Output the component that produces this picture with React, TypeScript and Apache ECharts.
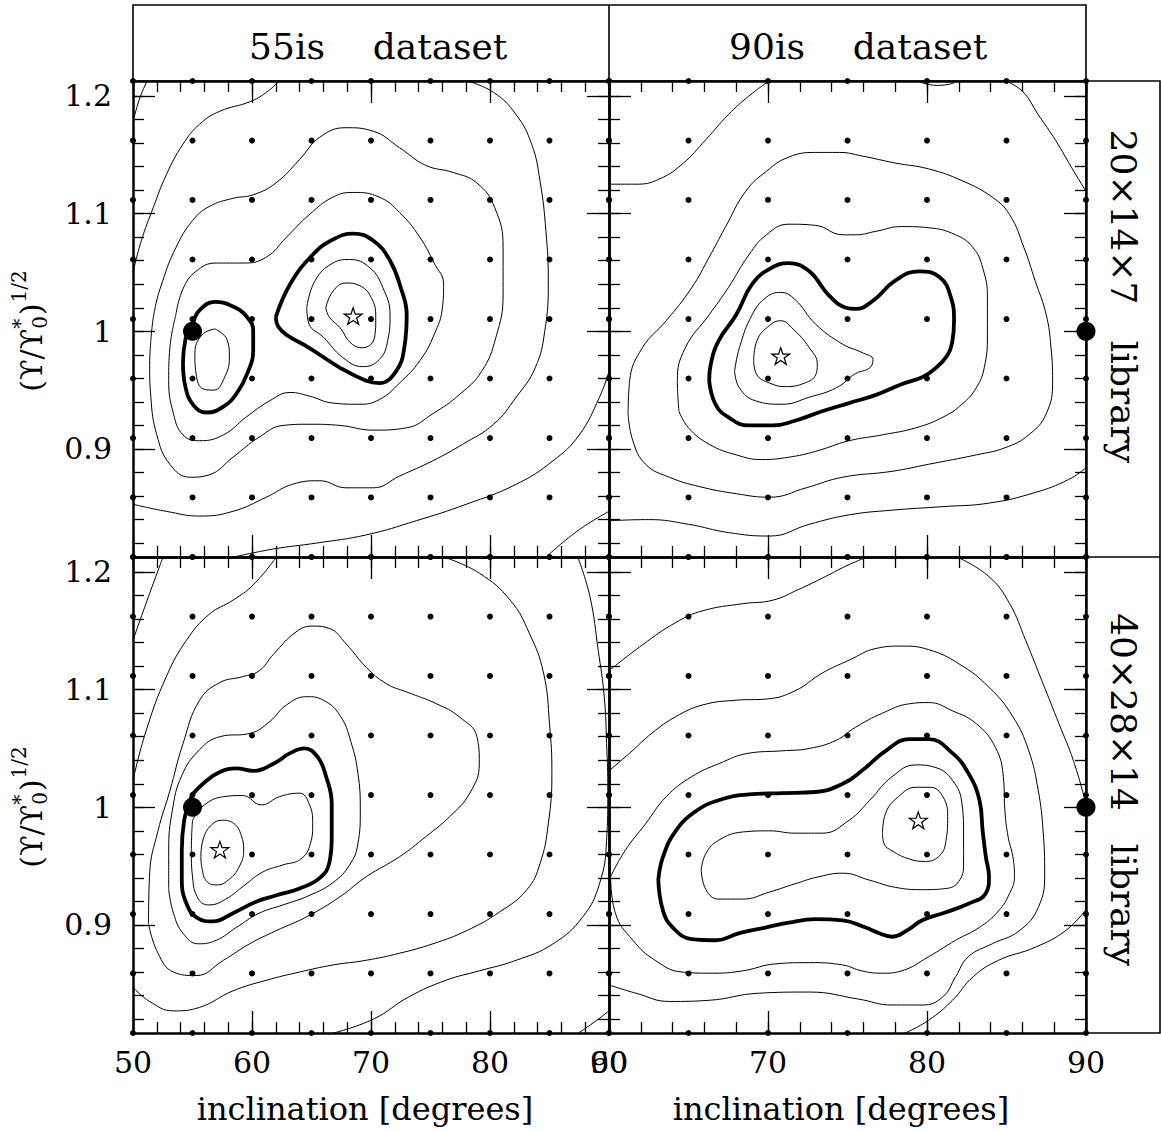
import React, { useEffect, useRef } from "react";
import * as echarts from "echarts";

const FONT = '"DejaVu Serif", "Liberation Serif", serif';

// ---------- axes ----------
const yExtent = [0.8082, 1.2127];
const xExtentLeft = [50, 90];
const xExtentRight = [60, 90];
const yMajor = [0.9, 1.0, 1.1, 1.2];
const yMinor = [0.82, 0.84, 0.86, 0.88, 0.9, 0.92, 0.94, 0.96, 0.98, 1.0, 1.02, 1.04, 1.06, 1.08, 1.1, 1.12, 1.14, 1.16, 1.18, 1.2];
const xMajorLeft = [50, 60, 70, 80, 90];
const xMinorLeft = [50, 52, 54, 56, 58, 60, 62, 64, 66, 68, 70, 72, 74, 76, 78, 80, 82, 84, 86, 88, 90];
const xMajorRight = [60, 70, 80, 90];
const xMinorRight = [60, 62, 64, 66, 68, 70, 72, 74, 76, 78, 80, 82, 84, 86, 88, 90];

// ---------- model grid (dots) ----------
const gridRows = [0.8082, 0.8588, 0.9093, 0.9599, 1.0104, 1.061, 1.1116, 1.1621, 1.2127];
const gridColsLeft = [50, 55, 60, 65, 70, 75, 80, 85, 90];
const gridColsRight = [60, 65, 70, 75, 80, 85, 90];

// ---------- true model and best fits ----------
const trueLeft = [[55, 1.0]];
const trueRight = [[90, 1.0]];
const bestTL = [[68.5, 1.013]];
const bestTR = [[70.8, 0.979]];
const bestBL = [[57.3, 0.964]];
const bestBR = [[79.45, 0.989]];

// ---------- contours: top-left (55is, 20x14x7) ----------
const tlCornerBR = [[84.7, 0.808], [87.3, 0.83], [90.0, 0.847]];
const tlOuterA = [[50.1, 1.182], [50.6, 1.199], [51.2, 1.213]];
const tlOuterB = [[90.0, 0.966], [89.2, 0.944], [87.5, 0.912], [85.3, 0.89], [82.2, 0.87], [78.0, 0.853], [73.8, 0.839], [69.6, 0.827], [65.4, 0.82], [61.8, 0.815], [58.4, 0.808]];
const tlWideA = [[50.0, 1.05], [50.7, 1.077], [51.7, 1.105], [52.8, 1.133], [54.2, 1.159], [55.6, 1.176], [57.3, 1.187], [59.8, 1.195], [61.2, 1.203], [62.3, 1.213]];
const tlWideB = [[78.0, 1.213], [80.3, 1.203], [82.2, 1.184], [83.5, 1.159], [84.2, 1.128], [84.7, 1.085], [84.9, 1.043], [84.6, 1.0], [83.8, 0.969], [82.2, 0.944], [80.3, 0.921], [77.7, 0.904], [75.2, 0.89], [72.4, 0.877], [70.2, 0.867], [67.9, 0.867], [65.7, 0.873], [63.4, 0.87], [61.2, 0.859], [58.4, 0.847], [55.6, 0.843], [52.8, 0.847], [50.0, 0.853]];
const tlRing3 = [[51.5, 0.992], [51.8, 1.017], [52.5, 1.043], [53.6, 1.071], [55.0, 1.094], [56.4, 1.106], [58.4, 1.113], [60.1, 1.116], [62.0, 1.126], [64.0, 1.146], [65.7, 1.165], [67.9, 1.173], [70.2, 1.17], [72.4, 1.156], [74.6, 1.141], [76.9, 1.135], [78.9, 1.126], [80.4, 1.105], [81.1, 1.071], [81.1, 1.031], [80.5, 0.995], [79.3, 0.966], [77.4, 0.946], [75.2, 0.93], [73.0, 0.918], [70.2, 0.916], [67.4, 0.92], [64.8, 0.921], [62.6, 0.92], [60.6, 0.91], [58.4, 0.893], [56.4, 0.878], [54.8, 0.876], [53.1, 0.887], [52.0, 0.912], [51.5, 0.944], [51.4, 0.972]];
const tlRing2 = [[53.6, 1.014], [54.2, 1.036], [55.3, 1.051], [57.0, 1.058], [59.2, 1.058], [61.2, 1.063], [62.9, 1.08], [64.8, 1.099], [66.8, 1.114], [68.5, 1.118], [70.7, 1.114], [72.4, 1.101], [74.1, 1.08], [75.3, 1.058], [76.1, 1.04], [76.0, 1.02], [75.3, 0.997], [74.1, 0.975], [72.4, 0.956], [70.7, 0.942], [69.0, 0.938], [66.8, 0.939], [64.8, 0.945], [63.2, 0.948], [61.5, 0.941], [59.5, 0.927], [57.6, 0.912], [55.6, 0.907], [54.2, 0.912], [53.4, 0.93], [53.0, 0.958], [53.1, 0.986]];
const tlThickLeft = [[55.1, 1.008], [55.6, 1.018], [56.9, 1.025], [58.4, 1.021], [59.6, 1.012], [60.1, 1.0], [60.1, 0.984], [59.6, 0.964], [58.7, 0.947], [57.6, 0.936], [56.2, 0.931], [55.1, 0.937], [54.4, 0.953], [54.2, 0.973], [54.4, 0.993], [54.8, 1.004]];
const tlInnerLeft = [[56.9, 1.002], [57.9, 0.993], [58.1, 0.978], [57.7, 0.961], [56.8, 0.95], [55.9, 0.951], [55.3, 0.964], [55.2, 0.981], [55.8, 0.997]];
const tlThickRight = [[62.0, 1.012], [63.2, 1.04], [65.1, 1.065], [66.8, 1.078], [68.5, 1.083], [70.2, 1.077], [71.6, 1.06], [72.5, 1.037], [73.0, 1.014], [72.8, 0.986], [72.1, 0.966], [70.7, 0.956], [69.6, 0.958], [67.4, 0.969], [64.8, 0.986], [62.9, 0.997], [62.2, 1.004]];
const tlInnerRight1 = [[64.6, 1.02], [65.3, 1.043], [66.8, 1.058], [68.2, 1.061], [69.9, 1.054], [71.0, 1.037], [71.6, 1.014], [71.4, 0.992], [70.7, 0.976], [69.3, 0.97], [67.6, 0.978], [66.0, 0.995], [64.8, 1.006]];
const tlInnerRight2 = [[66.2, 1.02], [66.8, 1.034], [67.9, 1.041], [69.0, 1.039], [70.0, 1.029], [70.4, 1.012], [70.3, 0.995], [69.3, 0.986], [68.3, 0.99], [67.4, 1.003], [66.5, 1.012]];

// ---------- contours: top-right (90is, 20x14x7) ----------
const trTopDip = [[79.4, 1.213], [80.0, 1.21], [80.8, 1.209], [81.7, 1.211]];
const trOuterA = [[60.0, 1.125], [61.7, 1.125], [63.1, 1.129], [64.6, 1.142], [66.1, 1.163], [67.5, 1.184], [68.8, 1.2], [70.0, 1.212]];
const trOuterB = [[84.9, 1.213], [86.0, 1.204], [87.0, 1.184], [88.1, 1.162], [89.1, 1.139], [90.0, 1.119]];
const trOuterC = [[60.0, 0.839], [62.5, 0.84], [65.0, 0.836], [67.5, 0.829], [70.1, 0.826], [72.6, 0.836], [75.1, 0.844], [77.8, 0.848], [81.0, 0.851], [83.9, 0.854], [86.8, 0.863], [88.9, 0.874], [90.0, 0.884]];
const trRing3 = [[61.2, 0.93], [61.3, 0.958], [62.1, 0.986], [63.6, 1.009], [65.2, 1.037], [66.3, 1.063], [67.3, 1.088], [68.6, 1.119], [69.9, 1.136], [71.3, 1.148], [73.0, 1.152], [74.5, 1.152], [75.9, 1.149], [78.0, 1.143], [80.1, 1.138], [82.2, 1.128], [84.1, 1.114], [85.2, 1.099], [86.1, 1.071], [86.8, 1.043], [87.5, 1.014], [87.8, 0.986], [87.9, 0.958], [87.5, 0.93], [86.4, 0.912], [84.9, 0.901], [83.1, 0.895], [80.1, 0.887], [77.8, 0.881], [74.7, 0.876], [72.4, 0.867], [70.1, 0.859], [68.0, 0.862], [65.7, 0.868], [63.8, 0.876], [62.3, 0.887], [61.5, 0.907]];
const trRing2 = [[64.4, 0.932], [64.3, 0.958], [64.8, 0.986], [66.3, 1.014], [67.5, 1.037], [68.8, 1.065], [69.9, 1.082], [71.3, 1.091], [73.0, 1.09], [74.7, 1.082], [75.5, 1.082], [76.8, 1.085], [78.4, 1.089], [80.1, 1.088], [81.8, 1.082], [82.9, 1.071], [83.5, 1.054], [83.8, 1.029], [83.8, 0.997], [83.6, 0.969], [83.1, 0.952], [82.2, 0.938], [81.0, 0.927], [79.3, 0.918], [77.2, 0.912], [75.1, 0.907], [73.0, 0.898], [71.3, 0.893], [69.6, 0.891], [68.0, 0.895], [66.3, 0.904], [65.0, 0.918]];
const trThick = [[66.3, 0.958], [66.4, 0.972], [66.9, 0.992], [68.0, 1.014], [69.0, 1.04], [70.1, 1.053], [71.3, 1.058], [72.6, 1.051], [73.8, 1.031], [74.9, 1.02], [75.5, 1.019], [76.6, 1.026], [78.0, 1.043], [79.5, 1.051], [80.8, 1.046], [81.5, 1.029], [81.7, 1.009], [81.6, 0.992], [81.2, 0.978], [80.3, 0.966], [79.7, 0.961], [78.4, 0.955], [76.8, 0.946], [75.1, 0.939], [73.4, 0.932], [71.7, 0.924], [70.3, 0.92], [68.8, 0.92], [67.5, 0.927], [66.7, 0.938]];
const trInner1 = [[67.9, 0.966], [68.2, 0.986], [69.0, 1.014], [69.9, 1.029], [70.8, 1.033], [71.7, 1.027], [73.0, 1.006], [74.7, 0.989], [75.9, 0.982], [76.6, 0.976], [76.4, 0.969], [75.5, 0.964], [74.3, 0.952], [72.6, 0.944], [70.9, 0.938], [69.2, 0.941], [68.2, 0.952]];
const trInner2 = [[69.1, 0.975], [69.3, 0.992], [70.1, 1.005], [70.8, 1.009], [71.5, 1.003], [72.6, 0.986], [73.1, 0.972], [73.0, 0.963], [72.3, 0.956], [71.1, 0.953], [70.1, 0.956], [69.3, 0.963]];

// ---------- contours: bottom-left (55is, 40x28x14) ----------
const blCornerTL = [[50.0, 1.142], [51.3, 1.179], [52.5, 1.212]];
const blCornerBR = [[87.4, 0.808], [88.7, 0.817], [90.0, 0.827]];
const blOuterEdge = [[87.4, 1.212], [88.4, 1.179], [89.1, 1.133], [89.6, 1.094], [89.8, 1.054], [89.9, 1.014], [89.8, 0.972], [89.2, 0.935], [87.8, 0.907], [85.3, 0.884], [82.2, 0.87], [79.1, 0.861], [76.3, 0.853], [73.2, 0.839], [70.2, 0.82], [66.8, 0.808]];
const blWideA = [[50.0, 1.023], [51.1, 1.065], [52.8, 1.111], [54.5, 1.142], [56.4, 1.164], [58.4, 1.176], [60.1, 1.189], [62.0, 1.212]];
const blWideB = [[76.3, 1.212], [79.1, 1.199], [81.7, 1.176], [83.3, 1.148], [84.5, 1.114], [85.0, 1.071], [85.2, 1.029], [84.9, 0.986], [84.2, 0.952], [83.1, 0.93], [80.8, 0.911], [78.0, 0.895], [75.2, 0.884], [72.4, 0.876], [69.6, 0.87], [66.8, 0.866], [64.0, 0.86], [61.2, 0.853], [58.4, 0.844], [55.6, 0.83], [53.4, 0.827], [51.4, 0.835], [50.0, 0.847]];
const blRing3 = [[51.3, 0.901], [51.4, 0.944], [52.1, 0.98], [53.1, 1.014], [54.2, 1.054], [55.6, 1.091], [57.3, 1.106], [59.2, 1.111], [60.6, 1.116], [61.8, 1.13], [63.7, 1.149], [65.1, 1.154], [66.5, 1.152], [67.9, 1.139], [69.6, 1.119], [71.3, 1.105], [73.0, 1.098], [75.5, 1.088], [77.4, 1.077], [78.9, 1.06], [79.1, 1.037], [78.3, 1.012], [76.6, 0.992], [74.6, 0.975], [72.4, 0.958], [69.6, 0.941], [67.4, 0.924], [64.6, 0.907], [62.0, 0.895], [59.8, 0.884], [57.6, 0.87], [55.3, 0.857], [53.4, 0.86], [52.1, 0.876]];
const blRing2 = [[53.0, 0.93], [53.0, 0.963], [53.3, 0.997], [54.1, 1.027], [55.6, 1.049], [57.3, 1.06], [59.9, 1.063], [61.5, 1.073], [62.9, 1.087], [64.6, 1.094], [66.0, 1.091], [67.4, 1.078], [68.3, 1.056], [68.9, 1.029], [69.1, 0.997], [68.9, 0.969], [68.2, 0.951], [66.8, 0.936], [64.8, 0.925], [62.6, 0.917], [60.6, 0.91], [58.7, 0.898], [57.0, 0.887], [55.5, 0.884], [54.2, 0.893], [53.4, 0.91]];
const blThick = [[55.0, 1.011], [56.0, 1.021], [57.3, 1.03], [58.7, 1.033], [60.1, 1.031], [61.8, 1.037], [63.2, 1.046], [64.4, 1.05], [65.5, 1.043], [66.2, 1.027], [66.7, 1.003], [66.7, 0.975], [66.5, 0.953], [65.7, 0.94], [64.0, 0.931], [62.0, 0.925], [60.4, 0.92], [58.4, 0.91], [56.7, 0.903], [55.4, 0.906], [54.5, 0.918], [54.1, 0.939], [54.1, 0.963], [54.3, 0.989], [54.7, 1.003]];
const blInner1 = [[55.0, 0.989], [56.0, 1.002], [57.6, 1.009], [59.2, 1.01], [60.8, 1.002], [62.3, 1.009], [64.0, 1.012], [64.8, 1.003], [65.1, 0.986], [64.9, 0.969], [64.1, 0.956], [62.6, 0.951], [60.9, 0.945], [59.4, 0.934], [57.8, 0.922], [56.4, 0.917], [55.5, 0.922], [55.0, 0.941], [54.9, 0.963]];
const blInner2 = [[55.7, 0.958], [55.9, 0.973], [56.6, 0.985], [57.5, 0.989], [58.5, 0.986], [59.1, 0.976], [59.3, 0.963], [58.9, 0.949], [58.1, 0.939], [57.1, 0.934], [56.2, 0.937], [55.8, 0.948]];

// ---------- contours: bottom-right (90is, 40x28x14) ----------
const brOuterA = [[60.0, 1.116], [62.1, 1.138], [64.2, 1.157], [65.9, 1.167], [68.4, 1.173], [70.3, 1.176], [71.9, 1.185], [73.6, 1.196], [74.9, 1.205], [76.1, 1.212]];
const brOuterB = [[82.0, 1.212], [83.9, 1.196], [85.2, 1.173], [86.2, 1.142], [87.3, 1.105], [88.3, 1.071], [89.2, 1.04], [89.94, 1.006]];
const brOuterC = [[78.6, 0.808], [80.1, 0.819], [81.6, 0.836], [82.9, 0.856], [84.5, 0.87], [86.8, 0.881], [88.7, 0.895], [89.94, 0.912]];
const brWide = [[60.0, 1.031], [61.3, 1.046], [62.7, 1.063], [64.2, 1.077], [65.9, 1.087], [68.0, 1.091], [69.9, 1.092], [71.7, 1.099], [73.4, 1.114], [75.1, 1.125], [76.8, 1.135], [78.4, 1.137], [80.1, 1.134], [82.0, 1.122], [83.9, 1.102], [85.4, 1.077], [86.4, 1.048], [87.0, 1.014], [87.3, 0.98], [87.4, 0.944], [87.0, 0.915], [85.8, 0.895], [84.1, 0.884], [82.6, 0.873], [81.8, 0.856], [81.0, 0.839], [79.7, 0.832], [77.8, 0.832], [75.7, 0.837], [72.6, 0.843], [69.4, 0.842], [66.3, 0.836], [63.8, 0.835], [61.7, 0.842], [60.0, 0.849]];
const brRing3 = [[60.1, 0.941], [61.0, 0.963], [62.3, 0.986], [63.6, 1.009], [65.2, 1.026], [66.9, 1.037], [68.8, 1.046], [70.9, 1.048], [72.6, 1.05], [74.3, 1.057], [75.5, 1.068], [77.2, 1.08], [78.9, 1.088], [80.1, 1.089], [81.6, 1.082], [83.1, 1.071], [84.3, 1.051], [84.8, 1.026], [84.9, 0.997], [85.1, 0.975], [85.4, 0.958], [85.5, 0.941], [85.2, 0.927], [84.5, 0.912], [83.3, 0.898], [81.8, 0.887], [80.1, 0.873], [78.4, 0.861], [77.2, 0.859], [75.9, 0.861], [74.7, 0.866], [72.6, 0.868], [70.5, 0.867], [68.4, 0.861], [66.5, 0.859], [64.6, 0.86], [62.9, 0.87], [61.5, 0.887], [60.4, 0.91]];
const brThick = [[63.1, 0.938], [63.4, 0.958], [64.2, 0.98], [65.5, 0.997], [66.9, 1.006], [68.8, 1.011], [70.9, 1.012], [73.0, 1.013], [74.7, 1.02], [75.9, 1.031], [77.4, 1.048], [78.9, 1.058], [80.1, 1.058], [81.6, 1.046], [82.6, 1.029], [83.3, 1.006], [83.5, 0.98], [83.7, 0.958], [83.9, 0.941], [83.7, 0.927], [82.6, 0.918], [81.0, 0.91], [79.7, 0.904], [78.7, 0.895], [77.8, 0.89], [77.0, 0.893], [76.1, 0.898], [74.7, 0.904], [73.0, 0.905], [71.3, 0.902], [69.9, 0.898], [68.2, 0.893], [66.7, 0.887], [65.2, 0.888], [64.0, 0.898], [63.4, 0.912]];
const brInner1 = [[65.8, 0.947], [66.1, 0.961], [66.9, 0.972], [68.4, 0.979], [70.1, 0.98], [71.7, 0.978], [73.4, 0.978], [75.1, 0.989], [76.4, 1.006], [77.8, 1.026], [79.3, 1.036], [80.5, 1.034], [81.6, 1.023], [82.2, 1.003], [82.3, 0.978], [82.3, 0.952], [82.0, 0.937], [81.2, 0.931], [79.7, 0.93], [78.0, 0.932], [76.4, 0.938], [74.7, 0.944], [73.2, 0.941], [71.7, 0.935], [70.1, 0.928], [68.4, 0.922], [66.9, 0.922], [66.1, 0.93]];
const brInner2 = [[77.2, 0.978], [77.4, 0.995], [78.2, 1.009], [79.3, 1.017], [80.2, 1.017], [81.0, 1.009], [81.3, 0.992], [81.2, 0.972], [80.8, 0.959], [79.9, 0.954], [78.9, 0.956], [77.8, 0.963], [77.3, 0.969]];

type Contour = { pts: number[][]; closed: boolean; thick: boolean };
const open = (pts: number[][]): Contour => ({ pts, closed: false, thick: false });
const ring = (pts: number[][], thick = false): Contour => ({ pts, closed: true, thick });

const panels = [
  {
    xExt: xExtentLeft, xMaj: xMajorLeft, xMin: xMinorLeft, xLab: false, yLab: true,
    cols: gridColsLeft, truth: trueLeft, best: bestTL,
    contours: [open(tlCornerBR), open(tlOuterA), open(tlOuterB), open(tlWideA), open(tlWideB), ring(tlRing3), ring(tlRing2),
      ring(tlThickLeft, true), ring(tlInnerLeft), ring(tlThickRight, true), ring(tlInnerRight1), ring(tlInnerRight2)],
  },
  {
    xExt: xExtentRight, xMaj: xMajorRight, xMin: xMinorRight, xLab: false, yLab: false,
    cols: gridColsRight, truth: trueRight, best: bestTR,
    contours: [open(trTopDip), open(trOuterA), open(trOuterB), open(trOuterC), ring(trRing3), ring(trRing2),
      ring(trThick, true), ring(trInner1), ring(trInner2)],
  },
  {
    xExt: xExtentLeft, xMaj: xMajorLeft, xMin: xMinorLeft, xLab: true, yLab: true,
    cols: gridColsLeft, truth: trueLeft, best: bestBL,
    contours: [open(blCornerTL), open(blCornerBR), open(blOuterEdge), open(blWideA), open(blWideB), ring(blRing3), ring(blRing2),
      ring(blThick, true), ring(blInner1), ring(blInner2)],
  },
  {
    xExt: xExtentRight, xMaj: xMajorRight, xMin: xMinorRight, xLab: true, yLab: false,
    cols: gridColsRight, truth: trueRight, best: bestBR,
    contours: [open(brOuterA), open(brOuterB), open(brOuterC), open(brWide), ring(brRing3),
      ring(brThick, true), ring(brInner1), ring(brInner2)],
  },
];

const gridBoxes = [
  { left: 133, top: 81, width: 476, height: 476 },
  { left: 609, top: 81, width: 477, height: 476 },
  { left: 133, top: 557, width: 476, height: 476 },
  { left: 609, top: 557, width: 477, height: 476 },
];

const STAR = "path://M50,0 L61.8,35.4 L100,35.4 L69.1,57.3 L80.9,92.7 L50,70.8 L19.1,92.7 L30.9,57.3 L0,35.4 L38.2,35.4 Z";

function measure(text: string, size: number) {
  const c = document.createElement("canvas").getContext("2d");
  if (!c) return text.length * size * 0.6;
  c.font = `${size}px "DejaVu Serif"`;
  return c.measureText(text).width;
}

function buildOption() {
  const axisLine = { show: true, onZero: false, lineStyle: { color: "#000", width: 2.5 } };
  const noLine = { show: false, onZero: false };
  const tickStyle = { color: "#000", width: 1.3 };
  const lab = { fontFamily: FONT, fontSize: 30, color: "#000" };
  const xAxis: any[] = [];
  const yAxis: any[] = [];
  const series: any[] = [];

  panels.forEach((p, g) => {
    const xb = { type: "value", gridIndex: g, min: p.xExt[0], max: p.xExt[1], splitLine: { show: false } };
    xAxis.push(
      { ...xb, position: "bottom", axisLine, axisTick: { show: true, inside: true, length: 22, customValues: p.xMaj, lineStyle: tickStyle },
        axisLabel: { show: p.xLab, customValues: p.xMaj, margin: 14, showMinLabel: true, showMaxLabel: true, ...lab } },
      { ...xb, position: "bottom", axisLine: noLine, axisTick: { show: true, inside: true, length: 11, customValues: p.xMin, lineStyle: tickStyle },
        axisLabel: { show: false, customValues: p.xMin } },
      { ...xb, position: "top", axisLine, axisTick: { show: true, inside: true, length: 22, customValues: p.xMaj, lineStyle: tickStyle },
        axisLabel: { show: false, customValues: p.xMaj } },
      { ...xb, position: "top", axisLine: noLine, axisTick: { show: true, inside: true, length: 11, customValues: p.xMin, lineStyle: tickStyle },
        axisLabel: { show: false, customValues: p.xMin } }
    );
    const yb = { type: "value", gridIndex: g, min: yExtent[0], max: yExtent[1], splitLine: { show: false } };
    yAxis.push(
      { ...yb, position: "left", axisLine, axisTick: { show: true, inside: true, length: 22, customValues: yMajor, lineStyle: tickStyle },
        axisLabel: { show: p.yLab, customValues: yMajor, margin: 21, showMinLabel: true, showMaxLabel: true, ...lab,
          formatter: (v: number) => (Math.abs(v - 1) < 1e-9 ? "1" : v.toFixed(1)) } },
      { ...yb, position: "left", axisLine: noLine, axisTick: { show: true, inside: true, length: 11, customValues: yMinor, lineStyle: tickStyle },
        axisLabel: { show: false, customValues: yMinor } },
      { ...yb, position: "right", axisLine, axisTick: { show: true, inside: true, length: 22, customValues: yMajor, lineStyle: tickStyle },
        axisLabel: { show: false, customValues: yMajor } },
      { ...yb, position: "right", axisLine: noLine, axisTick: { show: true, inside: true, length: 11, customValues: yMinor, lineStyle: tickStyle },
        axisLabel: { show: false, customValues: yMinor } }
    );

    const xi = 4 * g;
    const yi = 4 * g;
    p.contours.forEach((c) => {
      series.push({
        type: "line", xAxisIndex: xi, yAxisIndex: yi,
        data: c.closed ? [...c.pts, c.pts[0]] : c.pts,
        smooth: 0.45, symbol: "none", showSymbol: false, silent: true, clip: true, z: 2,
        lineStyle: { color: "#000", width: c.thick ? 3.8 : 1, opacity: 1 },
      });
    });
    const dots: number[][] = [];
    p.cols.forEach((x) => gridRows.forEach((y) => dots.push([x, y])));
    series.push({
      type: "scatter", xAxisIndex: xi, yAxisIndex: yi, data: dots, symbol: "circle", symbolSize: 6,
      itemStyle: { color: "#000", opacity: 1 }, silent: true, clip: false, z: 3,
    });
    series.push({
      type: "scatter", xAxisIndex: xi, yAxisIndex: yi, data: p.best, symbol: STAR, symbolSize: 18, symbolKeepAspect: true,
      itemStyle: { color: "#fff", borderColor: "#000", borderWidth: 1.2, opacity: 1 }, silent: true, clip: false, z: 4,
    });
    series.push({
      type: "scatter", xAxisIndex: xi, yAxisIndex: yi, data: p.truth, symbol: "circle", symbolSize: 19,
      itemStyle: { color: "#000", opacity: 1 }, silent: true, clip: false, z: 5,
    });
  });

  // y-axis title pieces
  const mainSize = 30;
  const subSize = 20;
  const wA = measure("(ϒ/ϒ", mainSize);
  const wS = Math.max(measure("*", subSize), measure("0", subSize));
  const wB = measure(")", mainSize);
  const wC = measure("1/2", subSize);
  const total = wA + wS + wB + wC + 2;
  const s0 = -total / 2;
  const yTitleChildren = (): any[] => [
    { type: "text", x: s0, y: 0, style: { text: "(ϒ/ϒ", fontSize: mainSize, fontFamily: FONT, fill: "#000", align: "left", verticalAlign: "middle" } },
    { type: "text", x: s0 + wA, y: -11, style: { text: "*", fontSize: subSize, fontFamily: FONT, fill: "#000", align: "left", verticalAlign: "middle" } },
    { type: "text", x: s0 + wA, y: 9, style: { text: "0", fontSize: subSize, fontFamily: FONT, fill: "#000", align: "left", verticalAlign: "middle" } },
    { type: "text", x: s0 + wA + wS + 1, y: 0, style: { text: ")", fontSize: mainSize, fontFamily: FONT, fill: "#000", align: "left", verticalAlign: "middle" } },
    { type: "text", x: s0 + wA + wS + wB + 2, y: -12, style: { text: "1/2", fontSize: subSize, fontFamily: FONT, fill: "#000", align: "left", verticalAlign: "middle" } },
  ];

  const txt = (text: string, x: number, y: number, size: number, rotation = 0) => ({
    type: "text", x, y, rotation, silent: true,
    style: { text, fontSize: size, fontFamily: FONT, fill: "#000", align: "center", verticalAlign: "middle" },
  });

  const graphic: any[] = [
    { type: "rect", shape: { x: 133, y: 5, width: 953, height: 76 }, style: { fill: "none", stroke: "#000", lineWidth: 1.6 }, silent: true },
    { type: "line", shape: { x1: 609, y1: 5, x2: 609, y2: 81 }, style: { stroke: "#000", lineWidth: 1.6 }, silent: true },
    { type: "rect", shape: { x: 1086, y: 81, width: 74, height: 952 }, style: { fill: "none", stroke: "#000", lineWidth: 1.6 }, silent: true },
    { type: "line", shape: { x1: 1086, y1: 557, x2: 1160, y2: 557 }, style: { stroke: "#000", lineWidth: 1.6 }, silent: true },
    txt("55is", 287, 46, 36), txt("dataset", 440, 46, 36),
    txt("90is", 767, 46, 36), txt("dataset", 920, 46, 36),
    txt("20×14×7", 1123, 217, 36, -Math.PI / 2), txt("library", 1123, 402, 36, -Math.PI / 2),
    txt("40×28×14", 1123, 712, 36, -Math.PI / 2), txt("library", 1123, 905, 36, -Math.PI / 2),
    txt("inclination [degrees]", 365, 1109, 32), txt("inclination [degrees]", 841, 1109, 32),
    { type: "group", x: 31, y: 331, rotation: Math.PI / 2, silent: true, children: yTitleChildren() },
    { type: "group", x: 31, y: 807, rotation: Math.PI / 2, silent: true, children: yTitleChildren() },
  ];

  return {
    animation: false,
    backgroundColor: "#fff",
    grid: gridBoxes.map((b) => ({ ...b, containLabel: false })),
    xAxis,
    yAxis,
    series,
    graphic,
  };
}

export default function App() {
  const ref = useRef<HTMLDivElement>(null);
  useEffect(() => {
    document.body.style.margin = "0";
    if (!ref.current) return;
    const chart = echarts.init(ref.current, undefined, { renderer: "svg" });
    chart.setOption(buildOption() as any);
    return () => chart.dispose();
  }, []);
  return <div ref={ref} style={{ width: 1161, height: 1132 }} />;
}
